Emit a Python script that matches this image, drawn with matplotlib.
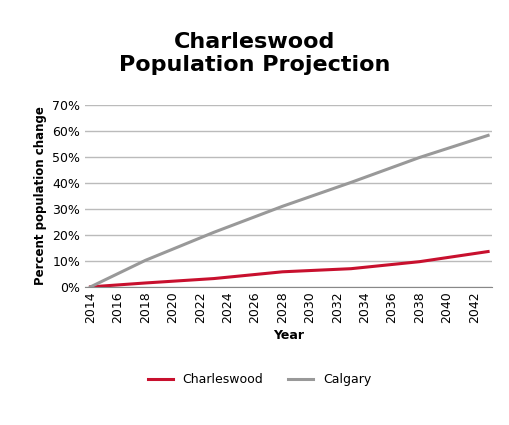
import matplotlib
matplotlib.use("Agg")
import matplotlib.pyplot as plt
from matplotlib.ticker import PercentFormatter

years = [2014, 2018, 2023, 2028, 2033, 2038, 2043]
charleswood = [0, 1.5, 3.2, 5.8, 7.0, 9.7, 13.6]
calgary = [0, 10.2, 21.0, 31.0, 40.2, 49.8, 58.3]
xticks = list(range(2014, 2043, 2))

fig = plt.figure(figsize=(5.09, 4.25), dpi=100)
ax = fig.add_axes([0.167, 0.325, 0.8, 0.428])
ax.plot(years, charleswood, color="#c8102e", lw=2.2, label="Charleswood")
ax.plot(years, calgary, color="#999999", lw=2.2, label="Calgary")
ax.set_xlim(2013.6, 2043.3)
ax.set_ylim(0, 70)
ax.set_yticks(range(0, 71, 10))
ax.yaxis.set_major_formatter(PercentFormatter(decimals=0))
ax.set_xticks(xticks)
ax.tick_params(axis="x", rotation=90, labelsize=9, length=0)
ax.tick_params(axis="y", labelsize=9, length=0)
ax.grid(axis="y", color="#bbbbbb", lw=1)
ax.set_axisbelow(True)
for s in ["top", "right", "left"]:
    ax.spines[s].set_visible(False)
ax.spines["bottom"].set_color("#888888")
ax.set_xlabel("Year", fontsize=9, fontweight="bold")
ax.set_ylabel("Percent population change", fontsize=8.5, fontweight="bold")
fig.suptitle("Charleswood\nPopulation Projection", fontsize=16, fontweight="bold", y=0.925)
fig.legend(loc="lower center", ncol=2, frameon=False, fontsize=9, bbox_to_anchor=(0.51, 0.065))
fig.savefig("out.png", dpi=100)
